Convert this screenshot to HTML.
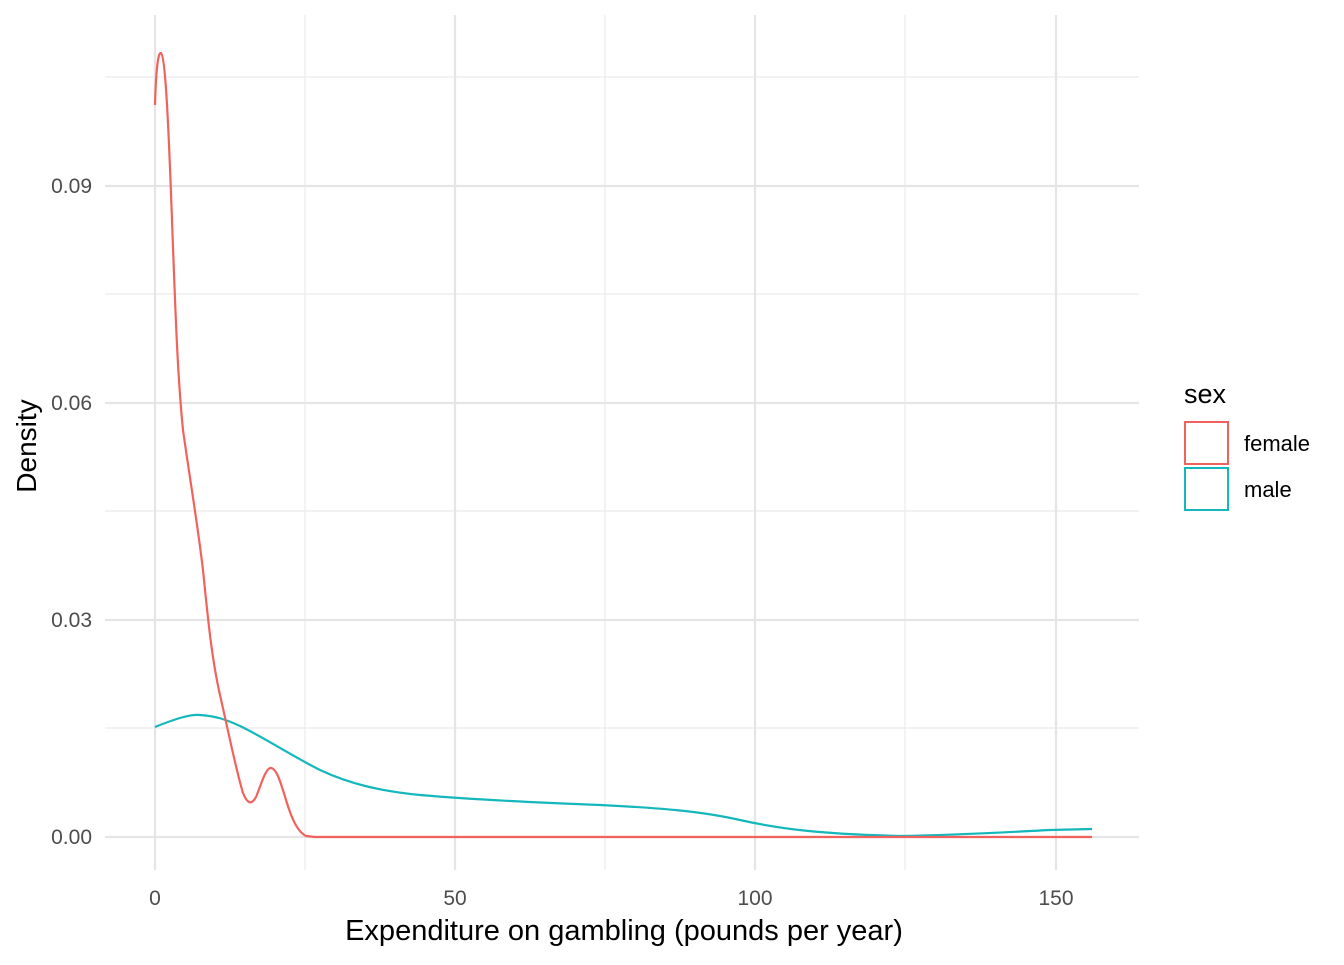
<!DOCTYPE html>
<html><head><style>body{margin:0;background:#fff}</style></head><body>
<svg width="1344" height="960" xmlns="http://www.w3.org/2000/svg" font-family="Liberation Sans, sans-serif">
<rect width="1344" height="960" fill="#fff"/>
<g stroke="#ebebeb" stroke-width="1.2">
<line x1="105" x2="1139" y1="728" y2="728"/><line x1="105" x2="1139" y1="511" y2="511"/><line x1="105" x2="1139" y1="294" y2="294"/><line x1="105" x2="1139" y1="77" y2="77"/>
<line x1="305" x2="305" y1="15" y2="870"/><line x1="605" x2="605" y1="15" y2="870"/><line x1="905" x2="905" y1="15" y2="870"/>
</g>
<g stroke="#e5e5e5" stroke-width="2.2">
<line x1="105" x2="1139" y1="837" y2="837"/><line x1="105" x2="1139" y1="620" y2="620"/><line x1="105" x2="1139" y1="403" y2="403"/><line x1="105" x2="1139" y1="186" y2="186"/>
<line x1="155" x2="155" y1="15" y2="870"/><line x1="455" x2="455" y1="15" y2="870"/><line x1="755" x2="755" y1="15" y2="870"/><line x1="1056" x2="1056" y1="15" y2="870"/>
</g>
<path fill="none" stroke="#14B7BB" stroke-width="2.2" d="M155,727 C175,719 190,714 200,715 C215,716 225,719 240,726 C265,738 290,755 320,770 C350,784 380,791 420,795 C455,798 520,802 600,805 C660,808 700,811 740,820 C780,829 820,834 900,836 C960,835 1010,832 1050,830 L1092,829"/>
<path fill="none" stroke="#F2625C" stroke-width="2.2" d="M155,105 C156,70 158,52 161,53 C165,56 168,110 172,220 C176,330 178,380 183,430 C190,480 197,520 203,570 C208,620 212,660 220,695 C228,730 236,770 243,793 C247,803 251,806 256,797 C261,785 265,770 270,768 C276,767 280,780 286,800 C292,820 298,832 306,836 L315,837 L1092,837"/>
<g fill="#4d4d4d" font-size="21" text-anchor="end">
<text x="92" y="844">0.00</text><text x="92" y="627">0.03</text><text x="92" y="410">0.06</text><text x="92" y="193">0.09</text>
</g>
<g fill="#4d4d4d" font-size="21" text-anchor="middle">
<text x="155" y="905">0</text><text x="455" y="905">50</text><text x="755" y="905">100</text><text x="1056" y="905">150</text>
</g>
<text x="624" y="940" font-size="29" text-anchor="middle" fill="#000">Expenditure on gambling (pounds per year)</text>
<text transform="translate(36,446) rotate(-90)" font-size="28" text-anchor="middle" fill="#000">Density</text>
<text x="1184" y="403" font-size="27" fill="#000">sex</text>
<rect x="1185" y="422" width="43" height="42" fill="#fff" stroke="#F2625C" stroke-width="2"/>
<rect x="1185" y="468" width="43" height="42" fill="#fff" stroke="#14B7BB" stroke-width="2"/>
<text x="1244" y="451" font-size="22" fill="#000">female</text>
<text x="1244" y="497" font-size="22" fill="#000">male</text>
</svg>
</body></html>
